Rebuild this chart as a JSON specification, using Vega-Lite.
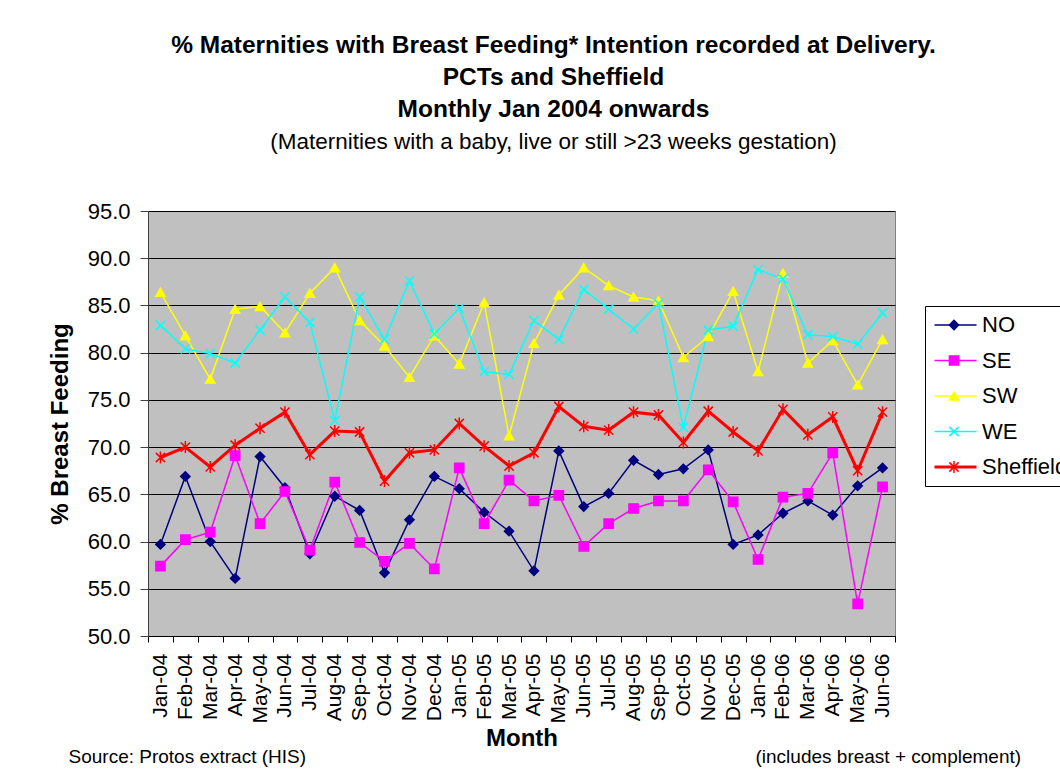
{
  "$schema": "https://vega.github.io/schema/vega-lite/v6.json",
  "autosize": {"type": "none"},
  "width": 747,
  "height": 425,
  "padding": {"left": 148, "top": 211, "right": 165, "bottom": 135},
  "background": "white",
  "config": {
    "font": "Liberation Sans",
    "view": {"fill": "#C0C0C0", "stroke": "#808080", "strokeWidth": 1},
    "axis": {"labelColor": "black", "titleColor": "black", "labelFont": "Liberation Sans", "titleFont": "Liberation Sans"},
    "legend": {"labelFont": "Liberation Sans"}
  },
  "title": {
    "text": ["% Maternities with Breast Feeding* Intention recorded at Delivery.", "PCTs and Sheffield", "Monthly Jan 2004 onwards"],
    "subtitle": "(Maternities with a baby, live or still >23 weeks gestation)",
    "font": "Liberation Sans",
    "fontSize": 24.5,
    "fontWeight": "bold",
    "lineHeight": 32,
    "color": "black",
    "subtitleFont": "Liberation Sans",
    "subtitleFontSize": 22.5,
    "subtitleFontWeight": "normal",
    "subtitleColor": "black",
    "subtitlePadding": 8,
    "anchor": "middle",
    "frame": "group",
    "dx": 32,
    "offset": 46
  },
  "data": {
    "values": [
      {"month": "Jan-04", "series": "NO", "value": 59.7},
      {"month": "Feb-04", "series": "NO", "value": 66.9},
      {"month": "Mar-04", "series": "NO", "value": 60.0},
      {"month": "Apr-04", "series": "NO", "value": 56.1},
      {"month": "May-04", "series": "NO", "value": 69.0},
      {"month": "Jun-04", "series": "NO", "value": 65.7},
      {"month": "Jul-04", "series": "NO", "value": 58.7},
      {"month": "Aug-04", "series": "NO", "value": 64.8},
      {"month": "Sep-04", "series": "NO", "value": 63.3},
      {"month": "Oct-04", "series": "NO", "value": 56.7},
      {"month": "Nov-04", "series": "NO", "value": 62.3},
      {"month": "Dec-04", "series": "NO", "value": 66.9},
      {"month": "Jan-05", "series": "NO", "value": 65.6},
      {"month": "Feb-05", "series": "NO", "value": 63.1},
      {"month": "Mar-05", "series": "NO", "value": 61.1},
      {"month": "Apr-05", "series": "NO", "value": 56.9},
      {"month": "May-05", "series": "NO", "value": 69.6},
      {"month": "Jun-05", "series": "NO", "value": 63.7},
      {"month": "Jul-05", "series": "NO", "value": 65.1},
      {"month": "Aug-05", "series": "NO", "value": 68.6},
      {"month": "Sep-05", "series": "NO", "value": 67.1},
      {"month": "Oct-05", "series": "NO", "value": 67.7},
      {"month": "Nov-05", "series": "NO", "value": 69.7},
      {"month": "Dec-05", "series": "NO", "value": 59.7},
      {"month": "Jan-06", "series": "NO", "value": 60.7},
      {"month": "Feb-06", "series": "NO", "value": 63.0},
      {"month": "Mar-06", "series": "NO", "value": 64.3},
      {"month": "Apr-06", "series": "NO", "value": 62.8},
      {"month": "May-06", "series": "NO", "value": 65.9},
      {"month": "Jun-06", "series": "NO", "value": 67.8},
      {"month": "Jan-04", "series": "SE", "value": 57.4},
      {"month": "Feb-04", "series": "SE", "value": 60.2},
      {"month": "Mar-04", "series": "SE", "value": 61.0},
      {"month": "Apr-04", "series": "SE", "value": 69.1},
      {"month": "May-04", "series": "SE", "value": 61.9},
      {"month": "Jun-04", "series": "SE", "value": 65.3},
      {"month": "Jul-04", "series": "SE", "value": 59.1},
      {"month": "Aug-04", "series": "SE", "value": 66.3},
      {"month": "Sep-04", "series": "SE", "value": 59.9},
      {"month": "Oct-04", "series": "SE", "value": 57.9},
      {"month": "Nov-04", "series": "SE", "value": 59.8},
      {"month": "Dec-04", "series": "SE", "value": 57.1},
      {"month": "Jan-05", "series": "SE", "value": 67.8},
      {"month": "Feb-05", "series": "SE", "value": 61.9},
      {"month": "Mar-05", "series": "SE", "value": 66.5},
      {"month": "Apr-05", "series": "SE", "value": 64.3},
      {"month": "May-05", "series": "SE", "value": 64.9},
      {"month": "Jun-05", "series": "SE", "value": 59.5},
      {"month": "Jul-05", "series": "SE", "value": 61.9},
      {"month": "Aug-05", "series": "SE", "value": 63.5},
      {"month": "Sep-05", "series": "SE", "value": 64.3},
      {"month": "Oct-05", "series": "SE", "value": 64.3},
      {"month": "Nov-05", "series": "SE", "value": 67.6},
      {"month": "Dec-05", "series": "SE", "value": 64.2},
      {"month": "Jan-06", "series": "SE", "value": 58.1},
      {"month": "Feb-06", "series": "SE", "value": 64.7},
      {"month": "Mar-06", "series": "SE", "value": 65.1},
      {"month": "Apr-06", "series": "SE", "value": 69.4},
      {"month": "May-06", "series": "SE", "value": 53.4},
      {"month": "Jun-06", "series": "SE", "value": 65.8},
      {"month": "Jan-04", "series": "SW", "value": 86.4},
      {"month": "Feb-04", "series": "SW", "value": 81.8},
      {"month": "Mar-04", "series": "SW", "value": 77.2},
      {"month": "Apr-04", "series": "SW", "value": 84.6},
      {"month": "May-04", "series": "SW", "value": 84.9},
      {"month": "Jun-04", "series": "SW", "value": 82.1},
      {"month": "Jul-04", "series": "SW", "value": 86.3},
      {"month": "Aug-04", "series": "SW", "value": 89.0},
      {"month": "Sep-04", "series": "SW", "value": 83.4},
      {"month": "Oct-04", "series": "SW", "value": 80.7},
      {"month": "Nov-04", "series": "SW", "value": 77.4},
      {"month": "Dec-04", "series": "SW", "value": 81.8},
      {"month": "Jan-05", "series": "SW", "value": 78.8},
      {"month": "Feb-05", "series": "SW", "value": 85.3},
      {"month": "Mar-05", "series": "SW", "value": 71.2},
      {"month": "Apr-05", "series": "SW", "value": 81.0},
      {"month": "May-05", "series": "SW", "value": 86.1},
      {"month": "Jun-05", "series": "SW", "value": 89.0},
      {"month": "Jul-05", "series": "SW", "value": 87.1},
      {"month": "Aug-05", "series": "SW", "value": 85.9},
      {"month": "Sep-05", "series": "SW", "value": 85.5},
      {"month": "Oct-05", "series": "SW", "value": 79.5},
      {"month": "Nov-05", "series": "SW", "value": 81.7},
      {"month": "Dec-05", "series": "SW", "value": 86.5},
      {"month": "Jan-06", "series": "SW", "value": 78.0},
      {"month": "Feb-06", "series": "SW", "value": 88.4},
      {"month": "Mar-06", "series": "SW", "value": 78.9},
      {"month": "Apr-06", "series": "SW", "value": 81.3},
      {"month": "May-06", "series": "SW", "value": 76.6},
      {"month": "Jun-06", "series": "SW", "value": 81.4},
      {"month": "Jan-04", "series": "WE", "value": 82.9},
      {"month": "Feb-04", "series": "WE", "value": 80.4},
      {"month": "Mar-04", "series": "WE", "value": 79.9},
      {"month": "Apr-04", "series": "WE", "value": 78.9},
      {"month": "May-04", "series": "WE", "value": 82.4},
      {"month": "Jun-04", "series": "WE", "value": 85.9},
      {"month": "Jul-04", "series": "WE", "value": 83.2},
      {"month": "Aug-04", "series": "WE", "value": 72.8},
      {"month": "Sep-04", "series": "WE", "value": 85.9},
      {"month": "Oct-04", "series": "WE", "value": 81.4},
      {"month": "Nov-04", "series": "WE", "value": 87.6},
      {"month": "Dec-04", "series": "WE", "value": 82.0},
      {"month": "Jan-05", "series": "WE", "value": 84.7},
      {"month": "Feb-05", "series": "WE", "value": 78.0},
      {"month": "Mar-05", "series": "WE", "value": 77.7},
      {"month": "Apr-05", "series": "WE", "value": 83.4},
      {"month": "May-05", "series": "WE", "value": 81.4},
      {"month": "Jun-05", "series": "WE", "value": 86.7},
      {"month": "Jul-05", "series": "WE", "value": 84.6},
      {"month": "Aug-05", "series": "WE", "value": 82.5},
      {"month": "Sep-05", "series": "WE", "value": 85.2},
      {"month": "Oct-05", "series": "WE", "value": 72.1},
      {"month": "Nov-05", "series": "WE", "value": 82.4},
      {"month": "Dec-05", "series": "WE", "value": 82.8},
      {"month": "Jan-06", "series": "WE", "value": 88.8},
      {"month": "Feb-06", "series": "WE", "value": 87.8},
      {"month": "Mar-06", "series": "WE", "value": 81.9},
      {"month": "Apr-06", "series": "WE", "value": 81.7},
      {"month": "May-06", "series": "WE", "value": 80.9},
      {"month": "Jun-06", "series": "WE", "value": 84.2},
      {"month": "Jan-04", "series": "Sheffield", "value": 68.9},
      {"month": "Feb-04", "series": "Sheffield", "value": 70.0},
      {"month": "Mar-04", "series": "Sheffield", "value": 67.9},
      {"month": "Apr-04", "series": "Sheffield", "value": 70.2},
      {"month": "May-04", "series": "Sheffield", "value": 72.0},
      {"month": "Jun-04", "series": "Sheffield", "value": 73.7},
      {"month": "Jul-04", "series": "Sheffield", "value": 69.2},
      {"month": "Aug-04", "series": "Sheffield", "value": 71.7},
      {"month": "Sep-04", "series": "Sheffield", "value": 71.6},
      {"month": "Oct-04", "series": "Sheffield", "value": 66.4},
      {"month": "Nov-04", "series": "Sheffield", "value": 69.4},
      {"month": "Dec-04", "series": "Sheffield", "value": 69.7},
      {"month": "Jan-05", "series": "Sheffield", "value": 72.5},
      {"month": "Feb-05", "series": "Sheffield", "value": 70.1},
      {"month": "Mar-05", "series": "Sheffield", "value": 68.0},
      {"month": "Apr-05", "series": "Sheffield", "value": 69.4},
      {"month": "May-05", "series": "Sheffield", "value": 74.3},
      {"month": "Jun-05", "series": "Sheffield", "value": 72.2},
      {"month": "Jul-05", "series": "Sheffield", "value": 71.8},
      {"month": "Aug-05", "series": "Sheffield", "value": 73.7},
      {"month": "Sep-05", "series": "Sheffield", "value": 73.4},
      {"month": "Oct-05", "series": "Sheffield", "value": 70.5},
      {"month": "Nov-05", "series": "Sheffield", "value": 73.8},
      {"month": "Dec-05", "series": "Sheffield", "value": 71.6},
      {"month": "Jan-06", "series": "Sheffield", "value": 69.6},
      {"month": "Feb-06", "series": "Sheffield", "value": 74.0},
      {"month": "Mar-06", "series": "Sheffield", "value": 71.3},
      {"month": "Apr-06", "series": "Sheffield", "value": 73.2},
      {"month": "May-06", "series": "Sheffield", "value": 67.5},
      {"month": "Jun-06", "series": "Sheffield", "value": 73.7}
    ]
  },
  "layer": [
    {
      "mark": {"type": "line"},
      "encoding": {
        "x": {
          "field": "month", "type": "ordinal", "sort": null,
          "scale": {"type": "band", "paddingInner": 0, "paddingOuter": 0},
          "axis": {
            "orient": "bottom", "title": "Month", "titleFontSize": 24, "titleFontWeight": "bold",
            "titleBaseline": "alphabetic", "titleY": 109,
            "labelAngle": -90, "labelFontSize": 21, "labelPadding": 11,
            "tickBand": "extent", "tickSize": 6, "tickColor": "black", "domainColor": "black", "grid": false
          }
        },
        "y": {
          "field": "value", "type": "quantitative",
          "scale": {"domain": [50, 95], "nice": false, "zero": false},
          "axis": {
            "orient": "left", "title": "% Breast Feeding", "titleFontSize": 24, "titleFontWeight": "bold",
            "titleBaseline": "alphabetic", "titleX": -81,
            "values": [50, 55, 60, 65, 70, 75, 80, 85, 90, 95], "format": ".1f",
            "labelFontSize": 22, "labelPadding": 10, "tickSize": 8,
            "grid": true, "gridColor": "black", "gridWidth": 1, "gridOpacity": 1,
            "domainColor": "#404040", "tickColor": "#404040"
          }
        },
        "color": {
          "field": "series", "type": "nominal",
          "scale": {"domain": ["NO", "SE", "SW", "WE", "Sheffield"], "range": ["#000080", "#FF00FF", "#FFFF00", "#00FFFF", "#FF0000"]},
          "legend": {
            "orient": "none", "legendX": 777, "legendY": 95, "title": null,
            "symbolType": "stroke", "symbolSize": 1764, "symbolStrokeWidth": 2,
            "clipHeight": 22,
            "labelFontSize": 22, "labelColor": "black", "labelOffset": 4, "labelLimit": 300,
            "rowPadding": 13.5, "padding": 8, "strokeColor": "black", "fillColor": "white"
          }
        },
        "strokeWidth": {
          "field": "series", "type": "ordinal",
          "scale": {"type": "ordinal", "domain": ["NO", "SE", "SW", "WE", "Sheffield"], "range": [1.5, 1.5, 1.5, 1.5, 3]},
          "legend": null
        }
      }
    },
    {
      "mark": {"type": "point", "filled": true, "size": 85, "strokeWidth": 1.5, "opacity": 1},
      "encoding": {
        "x": {
          "field": "month", "type": "ordinal", "sort": null,
          "scale": {"type": "band", "paddingInner": 0, "paddingOuter": 0},
          "axis": {
            "orient": "top", "title": "Source: Protos extract (HIS)", "labels": false, "ticks": false, "domain": false, "grid": false,
            "titleFontSize": 19, "titleFontWeight": "normal", "titleAlign": "left", "titleAngle": 0,
            "titleX": -80, "titleY": 551, "titleBaseline": "alphabetic"
          }
        },
        "y": {
          "field": "value", "type": "quantitative",
          "scale": {"domain": [50, 95], "nice": false, "zero": false},
          "axis": {
            "orient": "right", "title": "(includes breast + complement)", "labels": false, "ticks": false, "domain": false, "grid": false,
            "titleFontSize": 19, "titleFontWeight": "normal", "titleAlign": "left", "titleAngle": 0,
            "titleX": -140, "titleY": 551, "titleBaseline": "alphabetic"
          }
        },
        "color": {
          "field": "series", "type": "nominal",
          "scale": {"domain": ["NO", "SE", "SW", "WE", "Sheffield"], "range": ["#000080", "#FF00FF", "#FFFF00", "#00FFFF", "#FF0000"]}
        },
        "stroke": {
          "field": "series", "type": "nominal",
          "scale": {"domain": ["NO", "SE", "SW", "WE", "Sheffield"], "range": ["#000080", "#FF00FF", "#FFFF00", "#00FFFF", "#FF0000"]},
          "legend": null
        },
        "shape": {
          "field": "series", "type": "nominal",
          "sort": ["NO", "SE", "SW", "WE", "Sheffield"],
          "scale": {"range": ["diamond", "square", "triangle-up", "M-1,-1L1,1M-1,1L1,-1", "M-1,-1L1,1M-1,1L1,-1M0,-1.3L0,1.3"]},
          "legend": {
            "orient": "none", "legendX": 787, "legendY": 95, "title": null,
            "symbolSize": 85, "symbolStrokeWidth": 1.5, "symbolOpacity": 1,
            "symbolFillColor": {"expr": "scale('color', datum.value)"},
            "symbolStrokeColor": {"expr": "scale('color', datum.value)"},
            "labelFontSize": 22, "labelExpr": "' '", "labelOffset": 4,
            "rowPadding": 13.5, "padding": 8
          }
        }
      }
    }
  ],
  "resolve": {"axis": {"x": "independent", "y": "independent"}}
}
